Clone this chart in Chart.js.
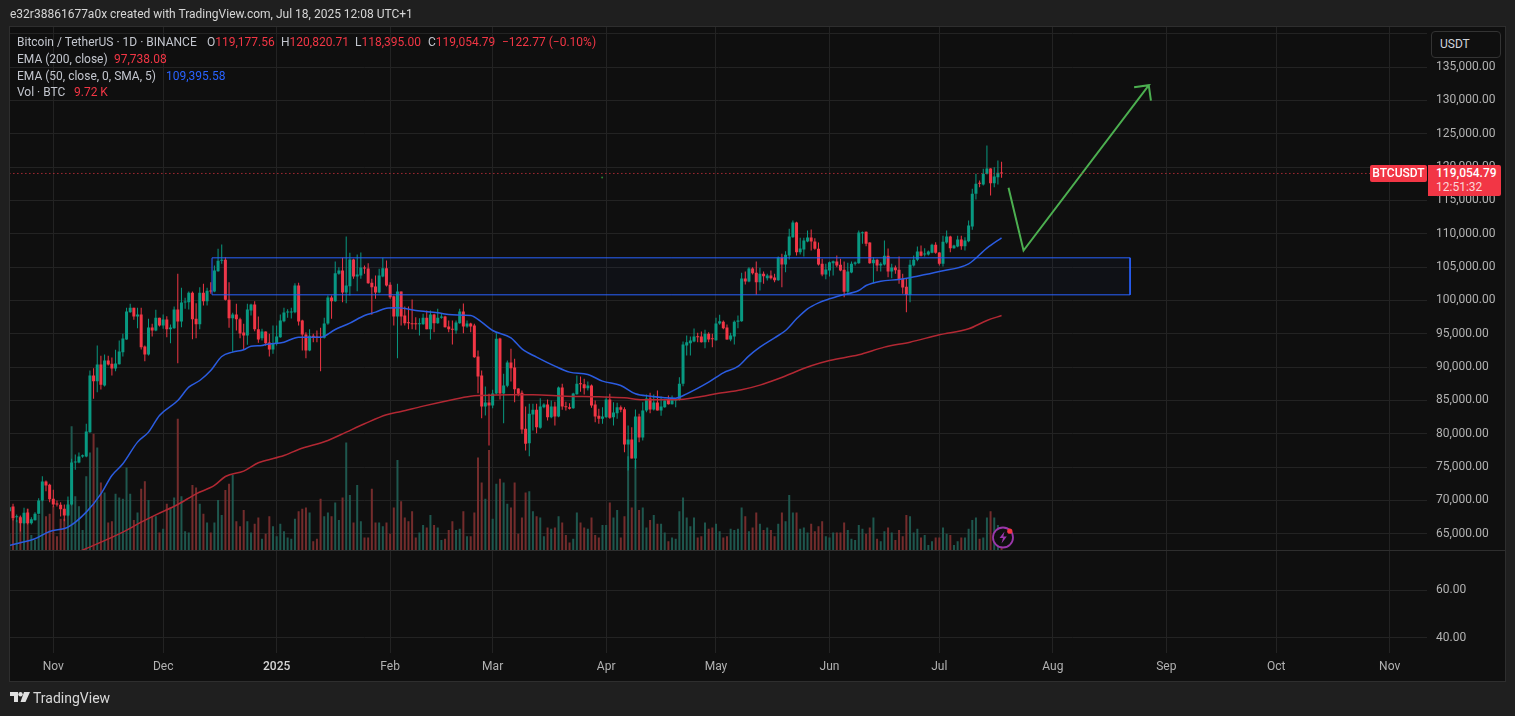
<!DOCTYPE html>
<html><head><meta charset="utf-8">
<script src="https://cdn.jsdelivr.net/npm/chart.js@4"></script>
<style>
html,body{margin:0;padding:0;width:1515px;height:716px;overflow:hidden;background:#1f1f1f;font-family:Roboto,sans-serif;}
#frame{position:absolute;left:9px;top:26px;width:1495px;height:654px;background:#0f0f0f;border:1px solid #2e2e2e;}
canvas{position:absolute;left:0;top:0;}
.t{position:absolute;white-space:nowrap;font-size:12px;line-height:16px;color:#c3c6ce;}
.r{color:#f23645;}.b{color:#2962ff;}
</style></head><body>
<div id="frame"></div>
<canvas id="c" width="1515" height="716" style="width:1515px;height:716px"></canvas>
<div class="t" style="left:10px;top:6px;font-size:12px;color:#d6d6d6">e32r38861677a0x created with TradingView.com, Jul 18, 2025 12:08 UTC+1</div>
<div class="t" style="left:17px;top:34px">Bitcoin / TetherUS · 1D · BINANCE</div>
<div class="t" style="left:207px;top:34px">O<span class="r">119,177.56</span></div>
<div class="t" style="left:281px;top:34px">H<span class="r">120,820.71</span></div>
<div class="t" style="left:355px;top:34px">L<span class="r">118,395.00</span></div>
<div class="t" style="left:428px;top:34px">C<span class="r">119,054.79</span></div>
<div class="t r" style="left:502px;top:34px">−122.77 (−0.10%)</div>
<div class="t" style="left:17px;top:51px">EMA (200, close)</div>
<div class="t r" style="left:114px;top:51px">97,738.08</div>
<div class="t" style="left:17px;top:68px">EMA (50, close, 0, SMA, 5)</div>
<div class="t b" style="left:166px;top:68px">109,395.58</div>
<div class="t" style="left:17px;top:84px">Vol · BTC</div>
<div class="t r" style="left:74px;top:84px">9.72 K</div>
<div style="position:absolute;left:10px;top:550px;width:1495px;height:1px;background:#2e2e2e"></div>
<div style="position:absolute;left:1431px;top:31px;width:68px;height:25px;background:#0f0f0f;border:1px solid #333;border-radius:4px"></div>
<div class="t" style="left:1440px;top:36px;color:#d1d4dc">USDT</div>
<div class="t" style="left:1370px;top:165px;width:57px;height:17px;background:#f23645;color:#fff;text-align:center;line-height:17px;border-radius:2px;font-weight:500">BTCUSDT</div>
<div style="position:absolute;left:1428px;top:165px;width:73px;height:31px;background:#f23645;border-radius:0 2px 2px 0"></div>
<div class="t" style="left:1436px;top:165px;color:#fff;font-weight:500">119,054.79</div>
<div class="t" style="left:1436px;top:179px;color:#fbd5d8">12:51:32</div>
<svg style="position:absolute;left:990.5px;top:524.5px" width="24" height="24" viewBox="0 0 24 24">
<circle cx="12" cy="12.5" r="10" fill="#0f0f0f" stroke="#9b37ab" stroke-width="1.8"/>
<path d="M13.5 6.5 L8.5 13 L12 13 L10.5 18.5 L15.8 11.5 L12.3 11.5 Z" fill="#9b37ab"/>
<circle cx="18.8" cy="6.2" r="2.6" fill="#f23645"/></svg>
<svg style="position:absolute;left:10px;top:692px" width="20" height="12" viewBox="0 0 20 12">
<path d="M0 0H8V10H4V4H0Z M14 0 L20 0 L15.5 10 L10.5 10 Z" fill="#e0e0e0"/><circle cx="10.5" cy="2.3" r="2.2" fill="#e0e0e0"/></svg>
<div class="t" style="left:33px;top:690px;font-size:14px;color:#d8d8d8">TradingView</div>
<script>
// Day index 0 = 20 Oct 2024, one candle per day up to 18 Jul 2025
const opens=[68400,69100,67500,67500,66600,68200,66600,67050,68000,70000,
72850,72350,70250,69500,69350,68750,67750,69400,75700,75700,
76600,76600,80250,88750,87900,90400,87250,91000,90500,89800,
90450,92250,94150,98250,98900,97600,97900,93100,91900,95950,
95500,97400,96250,97150,95700,95850,98650,96850,99700,99750,
101150,97250,96450,101150,99900,101450,101350,104400,105950,106100,
100100,97350,97900,97200,95200,94750,98500,99400,95700,94350,
95350,93700,92650,93500,94500,96900,98200,98200,98250,102250,
97000,94900,92500,94700,94500,94500,94400,96550,100450,99900,
104000,104500,101200,102150,106150,103600,103750,104950,104800,102650,
102100,101200,103600,104850,102350,100650,97600,101350,97750,96750,
96600,96600,96450,96450,97400,95700,97900,96600,97400,97600,
96100,95750,95500,96600,98350,96100,96550,96250,91600,88750,
84100,84700,84250,86050,94300,86050,87200,90700,89950,86800,
86150,80750,78600,82900,83600,80900,84000,84400,82500,84100,
82600,86950,84150,84000,83850,85950,87500,87450,86850,87250,
84400,82700,82250,82500,85150,82500,83100,84000,83700,78400,
79150,76300,82600,79450,83500,85300,83650,84700,83500,84000,
85100,84450,85000,85100,87500,93250,93600,93850,94600,94600,
93750,95000,94250,94050,96550,96800,95950,94150,94600,96800,
96900,103300,102850,104800,104150,102750,104000,103350,103750,103450,
103050,106450,105400,106750,109500,111700,107250,107650,108850,109450,
108850,107750,105500,103900,104500,105600,105850,105350,104600,101300,
104200,105500,105600,110100,110300,108700,105600,106100,105250,105400,
106700,104350,104950,104600,103250,102050,100850,105250,106100,107350,
106900,106900,107150,108350,107200,105500,108700,109600,107850,108100,
109150,108150,108900,111100,116000,117550,117400,119000,119800,117600,
118500,119177.56];
const closes=[69000,67350,67600,66600,68150,66600,67200,68000,70000,72850,
72250,70200,69400,69400,68700,67750,69400,75700,75850,76600,
76800,80350,88750,87900,90400,87350,91000,90400,89800,90550,
92350,94300,98350,98900,97600,97900,93000,91900,95950,95500,
97400,96250,97150,95700,95950,98650,96850,99700,99750,101150,
97200,96450,101150,99900,101450,101350,104500,105950,106100,100100,
97350,97900,97200,95050,94750,98650,99400,95700,94150,95350,
93600,92650,93500,94600,97000,98200,98250,98350,102250,96850,
94900,92500,94700,94500,94450,94400,96550,100450,99900,104100,
104500,101200,102250,106150,103600,103900,104950,104800,102600,102000,
101200,103750,104850,102250,100500,97600,101350,97600,96600,96600,
96450,96450,96550,97400,95700,97900,96600,97400,97600,96000,
95700,95600,96700,98350,96100,96550,96100,91500,88600,84100,
84700,84250,86050,94250,86050,87250,90700,89850,86700,86000,
80650,78500,83000,83600,81000,84100,84400,82500,84100,82600,
86950,84100,84000,83750,86050,87500,87450,86850,87250,84250,
82600,82250,82600,85150,82400,83200,84000,83600,78400,79150,
76300,82600,79450,83500,85300,83650,84700,83500,84100,85000,
84450,85100,85100,87500,93400,93750,94000,94600,94500,93750,
95000,94150,94200,96550,96900,95850,94150,94750,96800,97000,
103300,102850,104800,104100,102750,104000,103650,103750,103350,103050,
106450,105400,106850,109600,111700,107250,107800,109000,109450,108850,
107750,105400,103900,104650,105750,105900,105250,104500,101300,104350,
105500,105700,110200,110250,108500,105600,106100,105250,105500,106700,
104350,104950,104550,103150,101950,100850,105350,106100,107350,106700,
107000,107350,108350,107150,105500,108800,109600,107850,108250,109150,
108150,109000,111250,116000,117500,117500,119000,119800,117600,118600,
119177.56,119054.79];
const highs=[69400,69500,67900,67750,68900,68750,67500,68250,70350,73650,
73000,72500,71600,70000,69750,69400,70600,76250,76900,77200,
76900,81500,89500,89850,93250,91700,91900,91700,91450,92600,
94000,95000,98900,99500,98900,98900,98900,93250,97250,96500,
98600,97400,97900,97650,96400,99100,104000,101900,100400,101350,
101350,99600,102000,102500,101900,102750,105250,107750,108400,106500,
102750,98150,99500,97400,96500,99500,99500,99900,97600,95750,
95350,95000,96250,96250,97900,98900,98700,98900,102600,102650,
97100,95250,95700,95000,95500,95900,97400,100750,100750,105850,
105000,106400,109600,107150,106250,106900,107200,105250,105600,103250,
103750,104750,106400,106000,102750,100750,102500,101350,99100,99100,
100150,97500,97350,98000,98500,98500,98000,98750,98100,97700,
97000,97000,97000,98750,99550,97000,96650,96500,92500,89500,
87100,86000,86600,95100,94400,89000,91000,92750,91250,86850,
86500,84100,84500,84500,84500,85350,84600,85150,85000,84800,
87100,87500,84800,84600,86150,88750,88600,88250,87850,87400,
85000,83750,84000,85600,86000,84750,84650,84250,84000,81250,
81000,83650,83000,84750,85900,86150,85900,86500,85600,85250,
85750,85750,85250,88500,93850,94750,94600,95800,95150,95350,
95600,95250,95000,97400,97850,97000,96400,95150,97000,97750,
104150,104350,105000,105000,105850,104900,104350,104000,104500,104000,
106600,107000,107400,110750,112000,111800,109400,109400,110500,110650,
109350,108700,106250,105500,105850,106000,106750,106250,105850,105650,
105850,105850,110500,110350,110350,108750,106500,106250,105750,109000,
107800,105500,105250,106600,104000,103350,106100,106750,108100,108250,
107850,107500,108500,108750,107250,109700,110500,109700,108350,109700,
109700,109500,112000,116750,119000,118000,119750,123250,119850,120000,
121000,120820.71];
const lows=[68100,67000,66750,65350,66500,66400,66400,67000,67900,69900,
71400,69750,69000,69100,67600,66900,67650,69250,74600,75600,
76400,76500,80150,85250,86250,86650,87100,90250,88750,89400,
90400,91600,94100,98150,97100,95850,92650,90900,91750,94600,
95400,96100,95750,94500,93600,95750,90600,96000,98750,98650,
94200,94350,95700,99250,99250,101000,101250,104300,105500,100000,
95900,92250,95500,94350,92600,93350,97750,95400,93650,94000,
93200,91600,92000,93250,94400,96750,97400,97300,98100,96250,
92500,91350,92400,93750,93750,89400,94300,96350,97250,99800,
103850,99750,99600,100750,103250,101400,103250,104000,102500,97850,
100250,101100,103500,102100,100250,96250,91350,96250,96250,95700,
95700,95600,94750,96350,95700,94150,95250,96500,97250,95950,
95250,93400,95000,96500,95100,95900,95250,91400,86100,82350,
82750,78250,83850,85900,85150,81600,87000,87850,84750,85650,
80000,77500,76650,80500,80100,80750,83850,82000,82350,81250,
82500,83600,83500,83650,83750,85850,86300,85900,86500,83900,
81750,81500,81500,82400,82250,81250,82250,83250,77250,74500,
76300,74750,78750,79000,83250,83100,83500,83500,82700,83900,
84400,84400,84000,85000,87150,91750,91750,93750,93750,93700,
92850,93750,93000,93950,96350,95700,94100,93900,93400,95850,
96800,102400,102750,103900,100850,101500,102500,103000,103150,102750,
102950,102000,104250,106150,109400,106750,106900,106600,108750,107500,
107600,105250,103650,103200,103600,103750,105000,104400,100500,100900,
104100,105250,105500,108500,108150,105500,102600,104400,104350,105250,
103500,103350,104000,102500,101000,98250,99750,105100,105900,106600,
106600,106750,107100,107000,105250,105100,108500,107250,107750,108000,
107600,107500,108750,110600,115150,117000,117250,118900,115750,117000,
117400,118395];
// Volume in thousands of BTC
const volumes=[13,25,24,27,29,33,12,8,28,40,27,29,35,11,25,25,40,99,43,35,
16,59,78,93,82,54,46,22,23,45,42,41,66,45,24,30,49,55,40,27,
27,14,17,37,34,42,105,43,15,14,52,50,37,29,22,14,22,40,28,48,
53,60,23,19,32,23,14,21,26,9,13,27,19,11,21,15,10,9,25,31,
33,34,30,7,9,41,27,30,27,38,24,42,86,44,22,52,23,10,10,49,
22,22,19,22,13,34,72,39,26,23,31,10,14,20,18,28,20,18,8,9,
16,23,16,17,31,11,11,30,74,54,41,80,25,53,57,54,37,34,54,13,
26,46,47,31,27,26,11,18,17,18,27,22,12,6,9,30,22,18,17,26,
12,10,20,20,38,26,32,10,27,75,34,72,32,34,18,24,28,21,21,14,
7,10,9,31,42,26,19,26,10,11,22,17,18,21,15,10,11,17,16,17,
34,27,15,18,30,21,16,18,16,11,21,30,23,44,30,30,17,18,14,21,
15,19,23,11,10,14,14,14,22,16,9,8,20,17,13,18,26,9,7,15,
18,14,8,16,11,28,27,14,17,10,12,4,7,10,10,18,13,12,4,7,
10,10,17,24,26,9,10,26,31,26,20,9.72];
const ema50Days=[0,3,7,11,16,21,25,28,31,35,38,41,46,49,52,55,58,61,64,66,69,70,75,79,85,89,93,97,100,103,106,111,117,121,126,129,132,137,140,144,149,153,158,162,167,171,175,182,185,191,195,199,202,205,209,212,215,218,221,224,227,232,234,238,243,248,254,262,267,271];
const ema50=[63250,63650,64250,65350,66000,68250,71000,73750,75500,78750,80250,82750,85000,87000,88000,89500,91600,92250,92600,93150,93250,93400,93750,94500,94500,95650,96600,97750,98250,98850,98900,98500,98150,97850,97750,96750,95500,94400,92750,91500,90150,89250,88900,87900,87250,86000,85650,85350,86000,87750,89150,90100,91700,93000,94400,95500,97250,98750,99650,100250,100750,101500,102250,102900,103150,103650,104350,105500,107850,109395.58];
const ema200Days=[19,31,36,40,46,51,56,59,64,68,70,75,79,87,92,97,103,107,113,120,126,129,137,143,152,161,168,173,182,189,193,200,205,210,219,224,232,239,246,254,262,267,271];
const ema200=[62300,65250,66750,67850,69400,71000,72250,73600,74400,75650,76000,76750,77650,79000,80250,81500,82850,83350,84150,85000,85650,85750,85850,85850,85650,85550,85400,85100,85100,85600,86000,86600,87300,88250,90200,91000,91850,93000,93750,94850,95750,97000,97738.08];
const priceTicks=[140000,135000,130000,125000,120000,115000,110000,105000,100000,95000,90000,85000,80000,75000,70000,65000];
const paneTicks=[60,40];
const monthDays=[12,42,73,104,132,163,193,224,254,285,316,346,377];
const monthLabels=['Nov','Dec','2025','Feb','Mar','Apr','May','Jun','Jul','Aug','Sep','Oct','Nov'];
const zoneDays=[55.35,306.1], zonePrices=[106400,100850];
const arrowDays=[272.9,277,311.2,307.2,311.2,311.8];
const arrowPrices=[116900,107500,132290,131990,132290,129995];
const lastPrice=119054.79;
const strayMark={x:161.9,y:118450};

const UP='#089981',DOWN='#f23645';
const cols=opens.map((o,i)=>closes[i]>=o?UP:DOWN);
const volCols=cols.map(c=>c===UP?'rgba(32,92,82,0.95)':'rgba(122,46,46,0.95)');
const fmt=v=>v.toLocaleString('en-US',{minimumFractionDigits:2,maximumFractionDigits:2});
const setTicks=list=>s=>{s.ticks=list.map(v=>({value:v}));};
const fixW=s=>{s.width=78;};
const GRID='#232323',TICK='#b2b2b2';

new Chart(document.getElementById('c'),{
 type:'bar',
 data:{datasets:[
  {type:'bar',yAxisID:'yVol',order:9,grouped:false,barThickness:2,inflateAmount:0,borderWidth:0,
   data:volumes.map((v,i)=>({x:i,y:v})),backgroundColor:volCols},
  {type:'bar',yAxisID:'y',order:8,grouped:false,barThickness:1,inflateAmount:0,borderWidth:0,
   data:highs.map((h,i)=>({x:i,y:[lows[i],h]})),backgroundColor:cols},
  {type:'bar',yAxisID:'y',order:7,grouped:false,barThickness:3,inflateAmount:0,borderWidth:0,minBarLength:1,
   data:opens.map((o,i)=>({x:i,y:[Math.min(o,closes[i]),Math.max(o,closes[i])]})),backgroundColor:cols},
  {type:'line',yAxisID:'y',order:5,data:ema200Days.map((d,i)=>({x:d,y:ema200[i]})),borderColor:'#b22833',borderWidth:1.5,pointRadius:0,cubicInterpolationMode:'monotone'},
  {type:'line',yAxisID:'y',order:4,data:ema50Days.map((d,i)=>({x:d,y:ema50[i]})),borderColor:'#2b5ce0',borderWidth:1.5,pointRadius:0,cubicInterpolationMode:'monotone'},
  {type:'line',yAxisID:'y',order:3,data:[[0,0],[1,0],[1,1],[0,1],[0,0]].map(p=>({x:zoneDays[p[0]],y:zonePrices[p[1]]})),
   borderColor:'#2962ff',borderWidth:1,backgroundColor:'rgba(41,98,255,0.032)',fill:'shape',pointRadius:0,tension:0},
  {type:'line',yAxisID:'y',order:2,data:arrowDays.map((d,i)=>({x:d,y:arrowPrices[i]})),borderColor:'#4caf50',borderWidth:2,pointRadius:0,tension:0,borderJoinStyle:'miter'},
  {type:'line',yAxisID:'y',order:1,data:[{x:0,y:lastPrice},{x:372,y:lastPrice}],borderColor:'#f23645',borderWidth:1,borderDash:[1,3],pointRadius:0,tension:0},
  {type:'line',yAxisID:'y',order:6,data:[strayMark],showLine:false,pointRadius:1,pointBackgroundColor:'#2e7d32',pointBorderColor:'#2e7d32',pointBorderWidth:0}
 ]},
 options:{
  responsive:false,animation:false,devicePixelRatio:1,
  layout:{padding:{left:10,top:27,right:10,bottom:35}},
  plugins:{legend:{display:false},tooltip:{enabled:false}},
  events:[],
  scales:{
   x:{type:'linear',position:'bottom',min:0.17,max:387.2,offset:false,
      grid:{color:GRID,drawTicks:false,offset:false},border:{display:false},
      afterBuildTicks:setTicks(monthDays),
      afterFit:s=>{s.height=28;},
      ticks:{autoSkip:false,maxRotation:0,padding:7,
        callback:v=>monthLabels[monthDays.indexOf(v)],
        color:c=>c.tick&&c.tick.label==='2025'?'#d6d6d6':TICK,
        font:c=>({family:'Roboto',size:12,weight:c.tick&&c.tick.label==='2025'?'500':'400'})}},
   y:{type:'linear',position:'right',stack:'panes',stackWeight:523.5,min:62495,max:141025,
      grid:{color:GRID,drawTicks:false},border:{display:false},
      afterBuildTicks:setTicks(priceTicks),afterFit:fixW,
      ticks:{autoSkip:false,padding:9,color:TICK,font:{family:'Roboto',size:12},
        callback:v=>v===140000?'':fmt(v)}},
   yPane:{type:'linear',position:'right',stack:'panes',stackWeight:102.5,min:33.7,max:76.7,
      grid:{color:GRID,drawTicks:false},border:{display:false},
      afterBuildTicks:setTicks(paneTicks),afterFit:fixW,
      ticks:{autoSkip:false,padding:9,color:TICK,font:{family:'Roboto',size:12},callback:v=>fmt(v)}},
   yVol:{type:'linear',display:false,min:-82.4,max:418.4}
  }
 }
});
</script>
</body></html>
